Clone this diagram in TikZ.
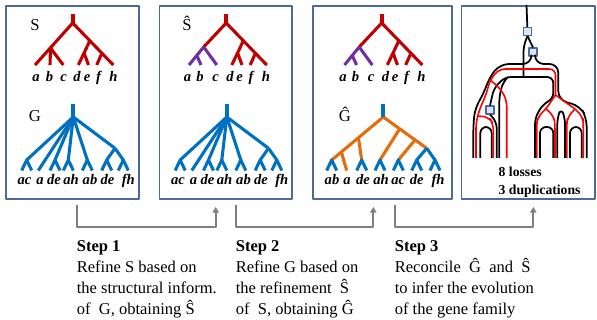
\documentclass[tikz,border=0pt]{standalone}
\usepackage{fontspec}
\setmainfont{Liberation Serif}
\usetikzlibrary{arrows.meta}

\definecolor{treeRed}{HTML}{C00000}
\definecolor{treeBlue}{HTML}{0070C0}
\definecolor{treePurple}{HTML}{7030A0}
\definecolor{treeOrange}{HTML}{E46C0A}
\definecolor{boxBlue}{HTML}{4A6A9B}
\definecolor{flowGray}{HTML}{7F7F7F}
\definecolor{dupFill}{HTML}{DCE6F2}

\begin{document}
\begin{tikzpicture}[x=0.02cm, y=-0.02cm, line join=round]
        \tikzstyle{panelBox} = [draw=boxBlue, line width=0.85pt, inner sep=0pt, outer sep=0pt]
        \tikzstyle{treeEdge} = [line width=1.75pt]
        \tikzstyle{redEdge} = [treeEdge, draw=treeRed]
        \tikzstyle{blueEdge} = [treeEdge, draw=treeBlue]
        \tikzstyle{purpleEdge} = [treeEdge, draw=treePurple]
        \tikzstyle{orangeEdge} = [treeEdge, draw=treeOrange]
        \tikzstyle{rootStub} = [line width=2.4pt]
        \tikzstyle{treeName} = [font=\fontsize{9.5}{11}\selectfont, anchor=base, inner sep=0pt]
        \tikzstyle{leafLabel} = [font=\fontsize{8.3}{10}\selectfont\bfseries\itshape, anchor=base, inner sep=0pt]
        \tikzstyle{stepText} = [font=\fontsize{9.4}{11}\selectfont, anchor=base west, inner sep=0pt]
        \tikzstyle{flowArrow} = [draw=flowGray, line width=1pt, -{Triangle[length=3.2pt,width=3.6pt]}]
        \tikzstyle{geneLine} = [draw=black, line width=1pt, rounded corners=3.5pt]
        \tikzstyle{speciesLine} = [draw=red, line width=0.9pt, rounded corners=3.5pt]
        \tikzstyle{dupBox} = [draw=boxBlue, fill=dupFill, line width=0.6pt, minimum size=0.16cm, inner sep=0pt]
        \tikzstyle{countText} = [font=\fontsize{7.8}{9}\selectfont\bfseries, anchor=base west, inner sep=0pt]
        \useasboundingbox (0,0) rectangle (597,320);

        % the four panels
        \node[panelBox, minimum width=2.66cm, minimum height=3.86cm] (p1) at (72.5,102.5) {};
        \node[panelBox, minimum width=2.65cm, minimum height=3.86cm] (p2) at (225.75,102.5) {};
        \node[panelBox, minimum width=2.78cm, minimum height=3.86cm] (p3) at (382.5,102.5) {};
        \node[panelBox, minimum width=2.67cm, minimum height=3.86cm] (p4) at (528.25,102.5) {};

        % species tree S
        \coordinate (sTop) at (72.7,14);
        \coordinate (sRoot) at (72.7,23);
        \coordinate (sL) at (50.5,48);
        \coordinate (sA) at (35,65);
        \coordinate (sB) at (50,65);
        \coordinate (sC) at (63.3,65);
        \coordinate (sR) at (90,40.5);
        \coordinate (sD) at (78.3,65);
        \coordinate (sDE) at (84.1,53);
        \coordinate (sE) at (88.5,65);
        \coordinate (sFH) at (102,53);
        \coordinate (sF) at (96.7,65);
        \coordinate (sH) at (113.3,65);
        \draw[rootStub, draw=treeRed] (sTop) -- (sRoot);
        \draw[redEdge] (sA) -- (sRoot) -- (sH);
        \foreach \from/\to in {sL/sB, sL/sC, sR/sD, sDE/sE, sFH/sF}
            \path[redEdge] (\from) edge (\to);
        \node[treeName] (sName) at (35,30.5) {S};
        \foreach \lab/\px [count=\i] in {a/36,b/49.5,c/63.5,d/77,e/87,f/98.5,h/113.5}
            \node[leafLabel] (sl\i) at (\px,81.5) {\lab};

        % refined species tree, panels 2 and 3
        \foreach \dx in {153.5,309} {
            \begin{scope}[shift={(\dx,0)}]
                \coordinate (tTop) at (72.7,14);
                \coordinate (tRoot) at (72.7,23);
                \coordinate (tL) at (50.2,47);
                \coordinate (tA) at (35.5,65);
                \coordinate (tAB) at (43.3,55.5);
                \coordinate (tB) at (47.5,65);
                \coordinate (tC) at (63.3,65);
                \coordinate (tR) at (90,40.5);
                \coordinate (tD) at (78.3,65);
                \coordinate (tDE) at (84.1,53);
                \coordinate (tE) at (88.5,65);
                \coordinate (tFH) at (102,53);
                \coordinate (tF) at (96.7,65);
                \coordinate (tH) at (113.3,65);
                \draw[rootStub, draw=treeRed] (tTop) -- (tRoot);
                \draw[redEdge] (tL) -- (tRoot) -- (tH);
                \foreach \from/\to in {tR/tD, tDE/tE, tFH/tF}
                    \path[redEdge] (\from) edge (\to);
                \foreach \from/\to in {tL/tA, tL/tC, tAB/tB}
                    \path[purpleEdge] (\from) edge (\to);
                \foreach \lab/\px [count=\i] in {a/34,b/46.5,c/62,d/76.5,e/86,f/97.5,h/112.5}
                    \node[leafLabel] (tl\i) at (\px,81.5) {\lab};
            \end{scope}
        }
        \node[treeName] (tName) at (187,30.5) {Ŝ};

        % gene tree G, panels 1 and 2
        \foreach \dx in {0,153.5} {
            \begin{scope}[shift={(\dx,0)}]
                \coordinate (gTop) at (73.3,104);
                \coordinate (gRoot) at (73.3,117);
                \coordinate (gAC) at (26.7,160);
                \coordinate (gA) at (38.3,170.5);
                \coordinate (gDE) at (55,160);
                \coordinate (gAH) at (68.3,160);
                \coordinate (gAB) at (87.3,160);
                \coordinate (gN) at (115,148.3);
                \coordinate (gDF) at (106.7,160);
                \coordinate (gFH) at (123.3,160);
                \foreach \to in {gAC, gA, gDE, gAH, gAB, gN}
                    \path[blueEdge] (gRoot) edge (\to);
                \foreach \to in {gDF, gFH}
                    \path[blueEdge] (gN) edge (\to);
                \foreach \f in {gAC, gDE, gAH, gAB, gDF, gFH}
                    \draw[blueEdge] (\f) ++(-5,10.5) -- (\f) -- ++(5,10.5);
                \draw[rootStub, draw=treeBlue] (gTop) -- (gRoot);
                \foreach \lab/\px [count=\i] in {ac/24.5,a/40,de/54,ah/71,ab/90,de/107.5,fh/128.3}
                    \node[leafLabel] (gl\i) at (\px,185) {\lab};
            \end{scope}
        }
        \node[treeName] (gName) at (35,122) {G};

        % refined gene tree
        \coordinate (hTop) at (383.3,104);
        \coordinate (hRoot) at (383.3,117);
        \coordinate (hAB) at (331.7,160);
        \coordinate (hN2) at (341.3,151.7);
        \coordinate (hA) at (346.7,170.5);
        \coordinate (hN1) at (358.3,136.7);
        \coordinate (hDE) at (361.7,160);
        \coordinate (hR1) at (400,128.3);
        \coordinate (hAH) at (380,160);
        \coordinate (hR2) at (415,140);
        \coordinate (hAC) at (398.3,160);
        \coordinate (hR3) at (426.7,148.3);
        \coordinate (hDF) at (416.7,160);
        \coordinate (hFH) at (435,160);
        \draw[orangeEdge] (hAB) -- (hRoot) -- (hR3);
        \foreach \from/\to in {hN2/hA, hN1/hDE, hR1/hAH, hR2/hAC}
            \path[orangeEdge] (\from) edge (\to);
        \foreach \from/\to in {hR3/hDF, hR3/hFH}
            \path[blueEdge] (\from) edge (\to);
        \foreach \f in {hAB, hDE, hAH, hAC, hDF, hFH}
            \draw[blueEdge] (\f) ++(-5,10.5) -- (\f) -- ++(5,10.5);
        \draw[rootStub, draw=treeBlue] (hTop) -- (hRoot);
        \node[treeName] (hName) at (345,122) {Ĝ};
        \foreach \lab/\px [count=\i] in {ab/332,a/347,de/363,ah/381,ac/398.3,de/416.7,fh/438}
            \node[leafLabel] (hl\i) at (\px,185) {\lab};

        % reconciliation
        \node[dupBox] (dup1) at (527.5,31.5) {};
        \node[dupBox] (dup2) at (533,52) {};
        \node[dupBox] (dup3) at (490,110) {};
        \coordinate (gRoot4) at (526.5,5);
        \draw[geneLine] (gRoot4) -- (dup1);
        \draw[geneLine] (dup1.south) -- (523.5,46) -- (523.5,77);
        \draw[geneLine] (dup1.south) -- (dup2.north);
        \draw[geneLine, rounded corners=5pt] (531.5,56) -- (531.5,64) -- (500,64) -- (489,78) -- (484,93)
            -- (475,108) -- (473.3,125) -- (473.3,158);
        \draw[geneLine, rounded corners=5pt] (535,56) -- (535,64) -- (558.3,64) -- (558.3,100)
            -- (580,106) -- (586.7,118) -- (586.7,158);
        \draw[geneLine] (535,158) -- (535,118) -- (543,104) -- (553.3,99) -- (553.3,77)
            -- (505,77) -- (494,88) -- (dup3.north);
        \draw[geneLine] (dup3.south) -- (496.7,122) -- (496.7,158);
        \draw[geneLine] (499.3,158) -- (499.3,96) -- (503,82) -- (508,77);
        \draw[geneLine] (480.3,158) -- (480.3,127) -- (491.7,127) -- (491.7,158);
        \draw[geneLine] (540,158) -- (540,127) -- (553.3,127) -- (553.3,158);
        \draw[geneLine] (557.3,158) -- (557.3,118) -- (561,108) -- (565,118) -- (565,158);
        \draw[geneLine] (570,158) -- (570,127) -- (581.7,127) -- (581.7,158);
        \draw[speciesLine] (476,158) -- (476,122) -- (480,108) -- (486,95) -- (490,80)
            -- (499,69) -- (555.5,69) -- (555.5,95);
        \draw[speciesLine] (490,80) -- (500,88) -- (506.7,100) -- (506.7,158);
        \draw[speciesLine] (477.5,116) -- (489,117) -- (493.3,124) -- (493.3,158);
        \draw[speciesLine] (555.5,95) -- (546,109) -- (537.5,117) -- (536.7,125) -- (536.7,158);
        \draw[speciesLine] (546,109) -- (554,116) -- (555,125) -- (555,158);
        \draw[speciesLine] (555.5,95) -- (575,109);
        \draw[speciesLine] (575,109) -- (567.5,117) -- (566.7,125) -- (566.7,158);
        \draw[speciesLine] (575,109) -- (583,117) -- (583.3,125) -- (583.3,158);
        \node[countText] (loss) at (498.3,176.5) {8 losses};
        \node[countText] (dups) at (498.3,194.5) {3 duplications};

        % steps
        \coordinate (fLow) at (0,227);
        \coordinate (f1a) at (76.7,205);
        \coordinate (f1b) at (215.7,207);
        \coordinate (f2a) at (235.7,205);
        \coordinate (f2b) at (373.3,207);
        \coordinate (f3a) at (395,205);
        \coordinate (f3b) at (533.3,207);
        \draw[flowArrow] (f1a) -- (f1a |- fLow) -| (f1b);
        \draw[flowArrow] (f2a) -- (f2a |- fLow) -| (f2b);
        \draw[flowArrow] (f3a) -- (f3a |- fLow) -| (f3b);

        \node[stepText] (st1) at (76.5,251.5) {\textbf{Step 1}};
        \node[stepText] (st1a) at (76.5,272) {Refine S based on};
        \node[stepText] (st1b) at (76.5,293) {the structural inform.};
        \node[stepText] (st1c) at (76.5,314) {of\ \ G, obtaining Ŝ};
        \node[stepText] (st2) at (235.5,251.5) {\textbf{Step 2}};
        \node[stepText] (st2a) at (235.5,272) {Refine G based on};
        \node[stepText] (st2b) at (235.5,293) {the refinement\ \ Ŝ};
        \node[stepText] (st2c) at (235.5,314) {of\ \ S, obtaining Ĝ};
        \node[stepText] (st3) at (394.5,251.5) {\textbf{Step 3}};
        \node[stepText] (st3a) at (394.5,272) {Reconcile\ \ Ĝ\ \ and\ \ Ŝ};
        \node[stepText] (st3b) at (394.5,293) {to infer the evolution};
        \node[stepText] (st3c) at (394.5,314) {of the gene family};
    \end{tikzpicture}
\end{document}
